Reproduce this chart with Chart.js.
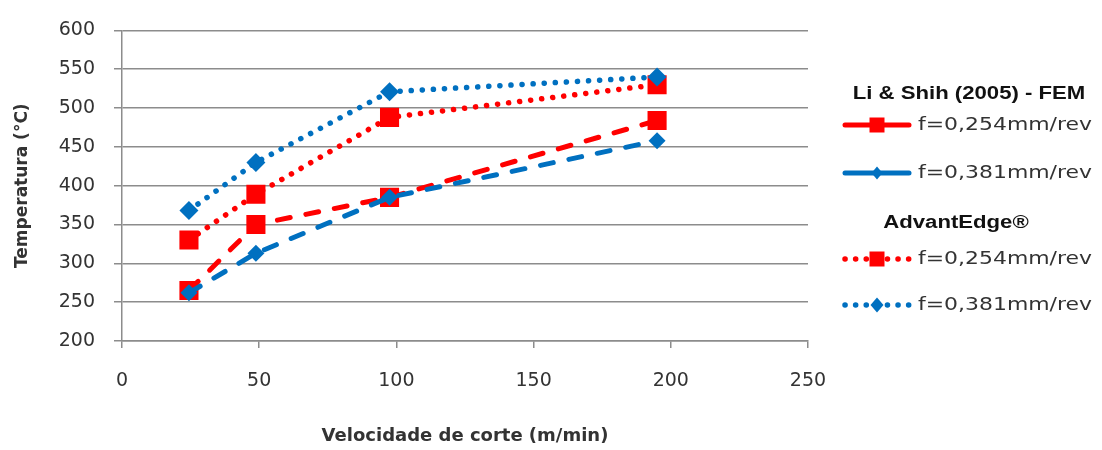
<!DOCTYPE html>
<html>
<head>
<meta charset="utf-8">
<script src="https://cdn.jsdelivr.net/npm/chart.js@4.4.1/dist/chart.umd.min.js"></script>
<style>
  html, body { margin: 0; padding: 0; background: #fff; }
  #wrap { width: 1102px; height: 450px; }
</style>
</head>
<body>
<div id="wrap"><canvas id="tempChart" width="1102" height="450"></canvas></div>
<script>
// cutting speed (m/min)
const speeds = [24.4, 48.8, 97.5, 195];

// temperature (°C) per series
const liShih254 = [265, 350, 385, 484];
const liShih381 = [262, 313, 385, 458];
const advEdge254 = [330, 389, 488, 530];
const advEdge381 = [368, 430, 521, 540];

const seriesLabels = ['f=0,254mm/rev', 'f=0,381mm/rev', 'f=0,254mm/rev', 'f=0,381mm/rev'];
const groupLabels = ['Li & Shih (2005) - FEM', 'AdvantEdge®'];

const xTicks = [0, 50, 100, 150, 200, 250];
const yTicks = [200, 250, 300, 350, 400, 450, 500, 550, 600];

const RED = '#ff0000';
const BLUE = '#0070c0';
const GRID = '#8c8c8c';

function toPoints(values) {
    return speeds.map(function(s, i) { return { x: s, y: values[i] }; });
}

// legend drawn by hand: two groups with bold headings
const groupedLegend = {
    id: 'groupedLegend',
    afterDraw(chart) {
        const ctx = chart.ctx;
        const ds = chart.data.datasets;
        const rows = [
            { head: groupLabels[0], y: 93, cx: 969 },
            { item: 0, y: 125, r: 7.5 },
            { item: 1, y: 173, r: 5.5 },
            { head: groupLabels[1], y: 222, cx: 956 },
            { item: 2, y: 259, r: 7.5 },
            { item: 3, y: 305, r: 6.5 }
        ];
        ctx.save();
        rows.forEach(function(row) {
            if (row.head) {
                ctx.save();
                ctx.translate(row.cx, row.y);
                ctx.scale(1.23, 1);
                ctx.font = 'bold 18px "Liberation Sans", Arial, sans-serif';
                ctx.fillStyle = '#111';
                ctx.textAlign = 'center';
                ctx.textBaseline = 'middle';
                ctx.fillText(row.head, 0, 1);
                ctx.restore();
                return;
            }
            const d = ds[row.item];
            // line sample
            ctx.save();
            ctx.strokeStyle = d.borderColor;
            ctx.lineWidth = d.borderWidth;
            ctx.lineCap = 'round';
            ctx.setLineDash(d.legendDash);
            ctx.beginPath();
            ctx.moveTo(845, row.y);
            ctx.lineTo(909, row.y);
            ctx.stroke();
            ctx.restore();
            // marker
            ctx.fillStyle = d.pointBackgroundColor;
            ctx.beginPath();
            if (d.pointStyle === 'rect') {
                ctx.rect(877 - row.r, row.y - row.r, row.r * 2, row.r * 2);
            } else {
                ctx.moveTo(877, row.y - row.r - 1);
                ctx.lineTo(877 + row.r, row.y);
                ctx.lineTo(877, row.y + row.r + 1);
                ctx.lineTo(877 - row.r, row.y);
                ctx.closePath();
            }
            ctx.fill();
            // text
            ctx.save();
            ctx.translate(918, row.y);
            ctx.scale(1.29, 1);
            ctx.font = '17px "DejaVu Sans", Verdana, sans-serif';
            ctx.fillStyle = '#333';
            ctx.textAlign = 'left';
            ctx.textBaseline = 'middle';
            ctx.fillText(seriesLabels[row.item], 0, 1);
            ctx.restore();
        });
        ctx.restore();
    }
};

const tickFont = { family: '"DejaVu Sans", Verdana, sans-serif', size: 19 };
const titleFont = { family: '"DejaVu Sans", Verdana, sans-serif', size: 18, weight: 'bold' };

const chart = new Chart(document.getElementById('tempChart').getContext('2d'), {
    type: 'line',
    data: {
        datasets: [
            {
                label: groupLabels[0] + ' ' + seriesLabels[0],
                data: toPoints(liShih254),
                borderColor: RED,
                backgroundColor: RED,
                borderWidth: 5,
                borderDash: [13, 16],
                legendDash: [],
                borderCapStyle: 'round',
                pointStyle: 'rect',
                pointRadius: 13.5,
                pointBackgroundColor: RED,
                pointBorderWidth: 0,
                order: 4
            },
            {
                label: groupLabels[0] + ' ' + seriesLabels[1],
                data: toPoints(liShih381),
                borderColor: BLUE,
                backgroundColor: BLUE,
                borderWidth: 5,
                borderDash: [13, 16],
                legendDash: [],
                borderCapStyle: 'round',
                pointStyle: 'rectRot',
                pointRadius: 8.5,
                pointBackgroundColor: BLUE,
                pointBorderWidth: 0,
                order: 3
            },
            {
                label: groupLabels[1] + ' ' + seriesLabels[2],
                data: toPoints(advEdge254),
                borderColor: RED,
                backgroundColor: RED,
                borderWidth: 5.5,
                borderDash: [0.1, 11],
                legendDash: [0.1, 10.5],
                borderCapStyle: 'round',
                pointStyle: 'rect',
                pointRadius: 13.5,
                pointBackgroundColor: RED,
                pointBorderWidth: 0,
                order: 2
            },
            {
                label: groupLabels[1] + ' ' + seriesLabels[3],
                data: toPoints(advEdge381),
                borderColor: BLUE,
                backgroundColor: BLUE,
                borderWidth: 5.5,
                borderDash: [0.1, 11],
                legendDash: [0.1, 10.5],
                borderCapStyle: 'round',
                pointStyle: 'rectRot',
                pointRadius: 9.5,
                pointBackgroundColor: BLUE,
                pointBorderWidth: 0,
                order: 1
            }
        ]
    },
    options: {
        responsive: false,
        animation: false,
        events: [],
        layout: { padding: { left: 0, top: 19, right: 294, bottom: 0 } },
        plugins: {
            legend: { display: false },
            tooltip: { enabled: false }
        },
        elements: { line: { tension: 0, fill: false } },
        scales: {
            x: {
                type: 'linear',
                min: 0,
                max: 250,
                afterBuildTicks: function(scale) {
                    scale.ticks = xTicks.map(function(v) { return { value: v }; });
                },
                afterFit: function(scale) { scale.height = 109; },
                grid: {
                    display: true,
                    drawOnChartArea: false,
                    drawTicks: true,
                    tickLength: 7,
                    color: GRID,
                    lineWidth: 1.5
                },
                border: { display: true, color: GRID, width: 1.5 },
                ticks: { font: tickFont, color: '#333', padding: 22, maxRotation: 0 },
                title: {
                    display: true,
                    text: 'Velocidade de corte (m/min)',
                    font: titleFont,
                    color: '#333',
                    padding: { top: 0, bottom: 3 }
                }
            },
            y: {
                type: 'linear',
                min: 200,
                max: 600,
                afterBuildTicks: function(scale) {
                    scale.ticks = yTicks.map(function(v) { return { value: v }; });
                },
                afterFit: function(scale) { scale.width = 122; },
                grid: {
                    display: true,
                    drawOnChartArea: true,
                    drawTicks: true,
                    tickLength: 8,
                    color: GRID,
                    lineWidth: 1.5
                },
                border: { display: true, color: GRID, width: 1.5 },
                ticks: { font: tickFont, color: '#333', padding: 19 },
                title: {
                    display: true,
                    text: 'Temperatura (°C)',
                    font: { family: '"DejaVu Sans", Verdana, sans-serif', size: 17, weight: 'bold' },
                    color: '#333',
                    padding: { top: 12, bottom: 0 }
                }
            }
        }
    },
    plugins: [groupedLegend]
});
</script>
</body>
</html>
